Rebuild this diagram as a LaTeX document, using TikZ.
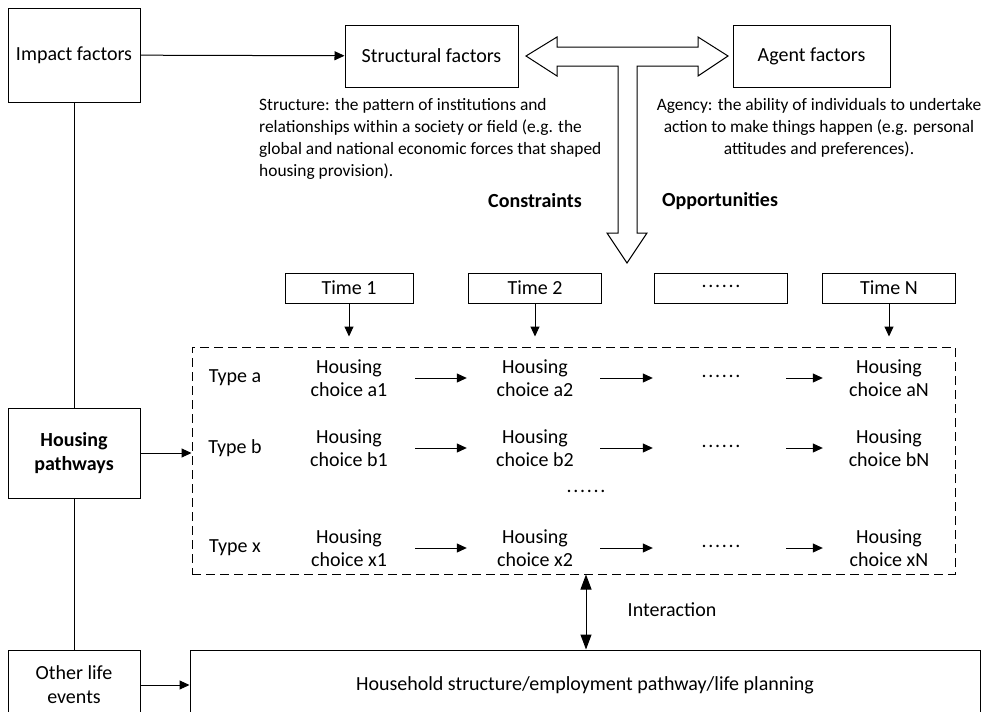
\documentclass[tikz,border=0pt]{standalone}
\usepackage{fontspec}
\setmainfont{Carlito}
\usetikzlibrary{arrows.meta,positioning}
\newcommand{\dotrow}{\raisebox{4pt}{.\kern1.7pt.\kern1.7pt.\kern1.7pt.\kern1.7pt.\kern1.7pt.}}

\begin{document}
\begin{tikzpicture}[x=1pt, y=-1pt,
    box/.style={rectangle, draw, line width=1pt, align=center, inner sep=2pt, font=\fontsize{20}{24}\selectfont},
    timebox/.style={box, minimum width=131pt, minimum height=30pt},
    choice/.style={align=center, inner sep=0pt, minimum width=124pt, font=\fontsize{20}{23}\selectfont},
    label/.style={align=center, inner sep=0pt, font=\fontsize{20}{23}\selectfont},
    note/.style={inner sep=0pt, font=\fontsize{17.4}{22}\selectfont},
    arrow/.style={-{Triangle[length=10pt,width=9pt]}, line width=1pt},
    link/.style={line width=1pt}]

    \useasboundingbox (0,0) rectangle (988,712);

    % left column
    \node[box, minimum width=132pt, minimum height=94pt] (impact) at (74,55) {Impact factors};
    \node[box, minimum width=132pt, minimum height=90pt, font=\fontsize{20}{24}\selectfont\bfseries] (pathways) at (74,453) {Housing\\pathways};
    \node[box, minimum width=132pt, minimum height=70pt] (other) at (74,685) {Other life\\events};

    % factors
    \node[box, minimum width=173pt, minimum height=62pt] (struct) at (431.5,56) {Structural factors};
    \node[box, minimum width=157pt, minimum height=62pt] (agent) at (811.5,56) {Agent factors};
    \node[note, anchor=north west, align=left] (structnote) at (259,98) {Structure: the pattern of institutions and\\relationships within a society or field (e.g. the\\global and national economic forces that shaped\\housing provision).};
    \node[note, anchor=north, align=center] (agentnote) at (819,98) {Agency: the ability of individuals to undertake\\action to make things happen (e.g. personal\\attitudes and preferences).};
    \node[label, font=\fontsize{20}{23}\selectfont\bfseries] (constr) at (535,201) {Constraints};
    \node[label, font=\fontsize{20}{23}\selectfont\bfseries] (opport) at (720,201) {Opportunities};

    % T-shaped block arrow
    \draw[line width=1pt, fill=white] (526,56) -- (557,37) -- (557,47) -- (698,47) -- (698,37) -- (728,56)
        -- (698,76) -- (698,66) -- (637,66) -- (637,233) -- (647,233) -- (627,263) -- (607,233)
        -- (618,233) -- (618,66) -- (557,66) -- (557,76) -- cycle;

    % time line
    \node[timebox, minimum width=128pt] (t1) at (349,288) {Time 1};
    \node[timebox, minimum width=133pt] (t2) at (535,288) {Time 2};
    \node[timebox, minimum width=133pt] (tdots) at (721,288) {\dotrow};
    \node[timebox, minimum width=133pt] (tN) at (889,288) {Time N};

    % housing pathways frame
    \node[draw, line width=1pt, dash pattern=on 9pt off 5pt, minimum width=763pt, minimum height=227pt, inner sep=0pt] (frame) at (573.5,460.5) {};

    \node[label] (typea) at (235,378) {Type a};
    \node[label] (typeb) at (235,448) {Type b};
    \node[label] (typex) at (235,548) {Type x};

    \node[choice] (a1) at (349,378) {Housing\\choice a1};
    \node[choice] (a2) at (535,378) {Housing\\choice a2};
    \node[choice] (adots) at (721,378) {\dotrow};
    \node[choice] (aN) at (889,378) {Housing\\choice aN};

    \node[choice] (b1) at (349,448) {Housing\\choice b1};
    \node[choice] (b2) at (535,448) {Housing\\choice b2};
    \node[choice] (bdots) at (721,448) {\dotrow};
    \node[choice] (bN) at (889,448) {Housing\\choice bN};

    \node[choice] (rowdots) at (586,493) {\dotrow};

    \node[choice] (x1) at (349,548) {Housing\\choice x1};
    \node[choice] (x2) at (535,548) {Housing\\choice x2};
    \node[choice] (xdots) at (721,548) {\dotrow};
    \node[choice] (xN) at (889,548) {Housing\\choice xN};

    % bottom
    \node[box, minimum width=790pt, minimum height=70pt] (house) at (585,685) {Household structure/employment pathway/life planning};
    \node[label] (inter) at (672,610) {Interaction};

    % connectors
    \draw[arrow] (impact) -- (struct);
    \draw[link] (impact) -- (pathways);
    \draw[link] (pathways) -- (other);
    \draw[arrow] (pathways) -- (frame.west |- pathways);
    \draw[arrow] (other) -- (house.west |- other);

    \draw[arrow, shorten >=10pt] (t1) -- (t1 |- frame.north);
    \draw[arrow, shorten >=10pt] (t2) -- (t2 |- frame.north);
    \draw[arrow, shorten >=10pt] (tN) -- (tN |- frame.north);

    \draw[arrow, shorten <=4pt, shorten >=6pt] (a1) -- (a2);
    \draw[arrow, shorten <=3pt, shorten >=6pt] (a2) -- (adots);
    \draw[arrow, shorten <=3pt, shorten >=4pt] (adots) -- (aN);
    \draw[arrow, shorten <=4pt, shorten >=6pt] (b1) -- (b2);
    \draw[arrow, shorten <=3pt, shorten >=6pt] (b2) -- (bdots);
    \draw[arrow, shorten <=3pt, shorten >=4pt] (bdots) -- (bN);
    \draw[arrow, shorten <=4pt, shorten >=6pt] (x1) -- (x2);
    \draw[arrow, shorten <=3pt, shorten >=6pt] (x2) -- (xdots);
    \draw[arrow, shorten <=3pt, shorten >=4pt] (xdots) -- (xN);

    \draw[{Triangle[length=15pt,width=11pt]}-{Triangle[length=15pt,width=11pt]}, line width=1pt] ([xshift=12.5pt]frame.south) -- ([xshift=12.5pt]frame.south |- house.north);
\end{tikzpicture}
\end{document}
